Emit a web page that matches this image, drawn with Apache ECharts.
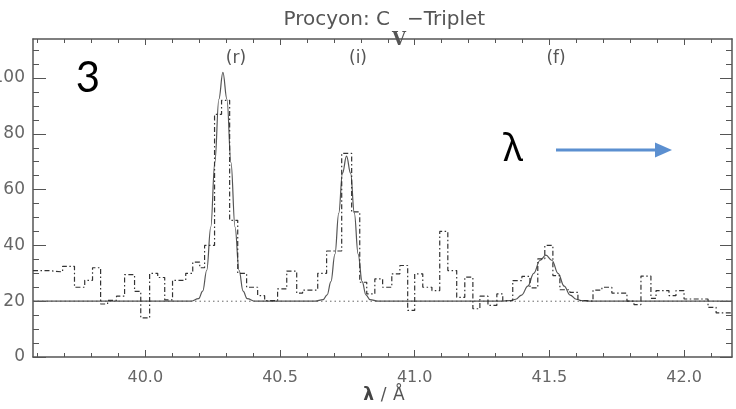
<!DOCTYPE html>
<html>
<head>
<meta charset="utf-8">
<style>
  html, body { margin: 0; padding: 0; background: #fff; }
  #chart { width: 736px; height: 409px; }
</style>
<script src="https://cdn.jsdelivr.net/npm/echarts@6/dist/echarts.min.js"></script>
</head>
<body>
<div id="chart"></div>
<script>
// Observed spectrum: left bin edges (Å) and counts per bin (last edge closes the final bin)
const binEdges = [
  39.583, 39.637, 39.693, 39.737, 39.775, 39.804, 39.834, 39.860, 39.893, 39.923,
  39.960, 39.983, 40.016, 40.046, 40.072, 40.101, 40.150, 40.176, 40.202, 40.220,
  40.257, 40.283, 40.313, 40.343, 40.376, 40.417, 40.443, 40.491, 40.525, 40.562,
  40.584, 40.640, 40.673, 40.729, 40.766, 40.796, 40.822, 40.852, 40.881, 40.915,
  40.945, 40.974, 41.000, 41.030, 41.064, 41.093, 41.123, 41.156, 41.186, 41.216,
  41.242, 41.272, 41.305, 41.327, 41.364, 41.398, 41.428, 41.457, 41.483, 41.513,
  41.539, 41.576, 41.606, 41.639, 41.662, 41.695, 41.732, 41.788, 41.814, 41.840,
  41.877, 41.896, 41.944, 41.970, 42.000, 42.089, 42.119, 42.178
];
const binCounts = [
  31, 30.5, 32.5, 25, 27.5, 32, 19, 20.3, 21.8, 29.5,
  23.5, 14, 30, 28.5, 20.5, 27.5, 30, 34, 32, 40,
  87, 92, 49, 30, 25, 22, 20.2, 24.4, 30.8, 22.9,
  24, 30, 38, 73, 52, 26.8, 22.6, 28, 25, 29.8,
  32.8, 16.7, 29.8, 25, 23.8, 45, 31, 21.4, 28.6, 17.3,
  21.8, 18.5, 22.6, 20.2, 27.4, 28.9, 24.8, 35.2, 40, 29.2,
  24.1, 23.2, 20.2, 20, 24, 25, 22.9, 20, 18.8, 29,
  21, 23.8, 22, 23.8, 20.8, 17.8, 15.8
];

// Fitted line model (r, i, f components on the continuum)
const modelWave = [
  39.583, 40.168, 40.198, 40.213, 40.228, 40.243, 40.258, 40.273, 40.288, 40.303,
  40.318, 40.333, 40.348, 40.363, 40.378, 40.408, 40.630, 40.660, 40.675, 40.689,
  40.704, 40.718, 40.732, 40.747, 40.762, 40.776, 40.790, 40.805, 40.819, 40.834,
  40.864, 41.320, 41.352, 41.375, 41.397, 41.420, 41.442, 41.465, 41.487, 41.510,
  41.532, 41.555, 41.577, 41.600, 41.622, 41.654, 42.178
];
const modelFlux = [
  20, 20, 20.9, 23.6, 31.1, 46.6, 69.7, 92.4, 102, 92.4,
  69.7, 46.6, 31.1, 23.6, 20.9, 20, 20, 20.6, 22.3, 27.0,
  36.9, 51.5, 65.9, 72, 65.9, 51.5, 36.9, 27.0, 22.3, 20.6,
  20, 20, 20.2, 20.7, 22.2, 25.4, 30.0, 34.6, 36.5, 34.6,
  30.0, 25.4, 22.2, 20.7, 20.2, 20, 20
];

// Continuum level
const continuumLevel = 20;

// Axis ranges and ticks
const waveMin = 39.583, waveMax = 42.178;
const countMin = 0, countMax = 114;
const xMajorTicks = [40.0, 40.5, 41.0, 41.5, 42.0];
const xMinorTicks = [39.6, 39.7, 39.8, 39.9, 40.1, 40.2, 40.3, 40.4, 40.6, 40.7, 40.8, 40.9,
                     41.1, 41.2, 41.3, 41.4, 41.6, 41.7, 41.8, 41.9, 42.1];
const yMajorTicks = [0, 20, 40, 60, 80, 100];
const yMinorTicks = [5, 10, 15, 25, 30, 35, 45, 50, 55, 65, 70, 75, 85, 90, 95, 105, 110];

// Line labels
const lineNames = ['(r)', '(i)', '(f)'];

const axisGray = '#555';
const labelFont = 'DejaVu Sans';

const histData = binCounts.map((c, i) => [binEdges[i], c]);
histData.push([binEdges[binEdges.length - 1], binCounts[binCounts.length - 1]]);
const modelData = modelWave.map((w, i) => [w, modelFlux[i]]);

function xAxisDef(position, ticks, len, withLine, withLabel) {
  return {
    type: 'value', position: position, min: waveMin, max: waveMax,
    axisLine: { show: withLine, onZero: false, lineStyle: { color: axisGray, width: 1.5 } },
    splitLine: { show: false },
    axisTick: { show: true, inside: true, length: len, customValues: ticks,
                lineStyle: { color: axisGray, width: 1 } },
    axisLabel: withLabel ? {
      show: true, customValues: ticks, margin: 13,
      fontFamily: labelFont, fontSize: 16, color: '#666',
      formatter: v => Number(v).toFixed(1)
    } : { show: false }
  };
}
function yAxisDef(position, ticks, len, withLine, withLabel) {
  return {
    type: 'value', position: position, min: countMin, max: countMax,
    axisLine: { show: withLine, onZero: false, lineStyle: { color: axisGray, width: 1.5 } },
    splitLine: { show: false },
    axisTick: { show: true, inside: true, length: len, customValues: ticks,
                lineStyle: { color: axisGray, width: 1 } },
    axisLabel: withLabel ? {
      show: true, customValues: ticks, margin: 8,
      fontFamily: labelFont, fontSize: 17, color: '#666'
    } : { show: false }
  };
}

const chart = echarts.init(document.getElementById('chart'), null, { renderer: 'canvas' });

chart.setOption({
  animation: false,
  backgroundColor: '#fff',
  grid: { left: 33, right: 4, top: 39, bottom: 52, containLabel: false, outerBoundsMode: 'none' },
  xAxis: [
    xAxisDef('bottom', xMajorTicks, 7, true, true),
    xAxisDef('bottom', xMinorTicks, 4, false, false),
    xAxisDef('top', xMajorTicks, 6, true, false),
    xAxisDef('top', xMinorTicks, 4, false, false)
  ],
  yAxis: [
    yAxisDef('left', yMajorTicks, 13, true, true),
    yAxisDef('left', yMinorTicks, 6, false, false),
    yAxisDef('right', yMajorTicks, 12, true, false),
    yAxisDef('right', yMinorTicks, 6, false, false)
  ],
  series: [
    {
      name: 'continuum', type: 'line', xAxisIndex: 0, yAxisIndex: 0,
      data: [[waveMin, continuumLevel], [waveMax, continuumLevel]],
      showSymbol: false, silent: true,
      lineStyle: { color: '#666', width: 1, type: [1.5, 3] }, z: 2
    },
    {
      name: 'model', type: 'line', xAxisIndex: 0, yAxisIndex: 0,
      data: modelData, smooth: 0.4, smoothMonotone: 'x',
      showSymbol: false, silent: true,
      lineStyle: { color: '#555', width: 1.2 }, z: 3
    },
    {
      name: 'observed', type: 'line', xAxisIndex: 0, yAxisIndex: 0,
      data: histData, step: 'end',
      showSymbol: false, silent: true,
      lineStyle: { color: '#333', width: 1.2, type: [5, 2.5, 1.5, 2.5] }, z: 4
    }
  ],
  graphic: [
    // title: "Procyon: C" + subscript V + "−Triplet"
    { type: 'text', x: 390, y: 20, z: 10,
      style: { text: 'Procyon: C', align: 'right', verticalAlign: 'middle',
               font: '20px "DejaVu Sans"', fill: '#555' } },
    { type: 'text', x: 399, y: 40, z: 10,
      style: { text: 'V', align: 'center', verticalAlign: 'middle',
               font: 'bold 18px "DejaVu Serif"', fill: '#555' } },
    { type: 'text', x: 407, y: 20, z: 10,
      style: { text: '\u2212Triplet', align: 'left', verticalAlign: 'middle',
               font: '20px "DejaVu Sans"', fill: '#555' } },
    // line identifiers
    { type: 'text', x: 236, y: 59, z: 10,
      style: { text: lineNames[0], align: 'center', verticalAlign: 'middle',
               font: '17px "DejaVu Sans"', fill: '#555' } },
    { type: 'text', x: 358, y: 59, z: 10,
      style: { text: lineNames[1], align: 'center', verticalAlign: 'middle',
               font: '17px "DejaVu Sans"', fill: '#555' } },
    { type: 'text', x: 556, y: 59, z: 10,
      style: { text: lineNames[2], align: 'center', verticalAlign: 'middle',
               font: '17px "DejaVu Sans"', fill: '#555' } },
    // x axis name
    { type: 'text', x: 384, y: 396, z: 10,
      style: { text: '{b|\u03bb}  {n|/}  {n|\u00c5}', align: 'center', verticalAlign: 'middle',
               rich: {
                 b: { font: 'bold 17px "DejaVu Sans"', fill: '#444' },
                 n: { font: '17px "DejaVu Sans"', fill: '#555' }
               } } },
    // panel number
    { type: 'text', x: 88, y: 78, z: 10,
      style: { text: '3', align: 'center', verticalAlign: 'middle',
               font: '42px Lato', fill: '#000' } },
    // wavelength direction
    { type: 'text', x: 513, y: 150, z: 10,
      style: { text: '\u03bb', align: 'center', verticalAlign: 'middle',
               font: '38px "Noto Sans"', fill: '#000' } },
    { type: 'line', z: 10,
      shape: { x1: 556, y1: 150, x2: 658, y2: 150 },
      style: { stroke: '#5b8fd0', lineWidth: 3 } },
    { type: 'polygon', z: 10,
      shape: { points: [[655, 142.5], [672, 150], [655, 157.5]] },
      style: { fill: '#5b8fd0' } }
  ]
});
</script>
</body>
</html>
